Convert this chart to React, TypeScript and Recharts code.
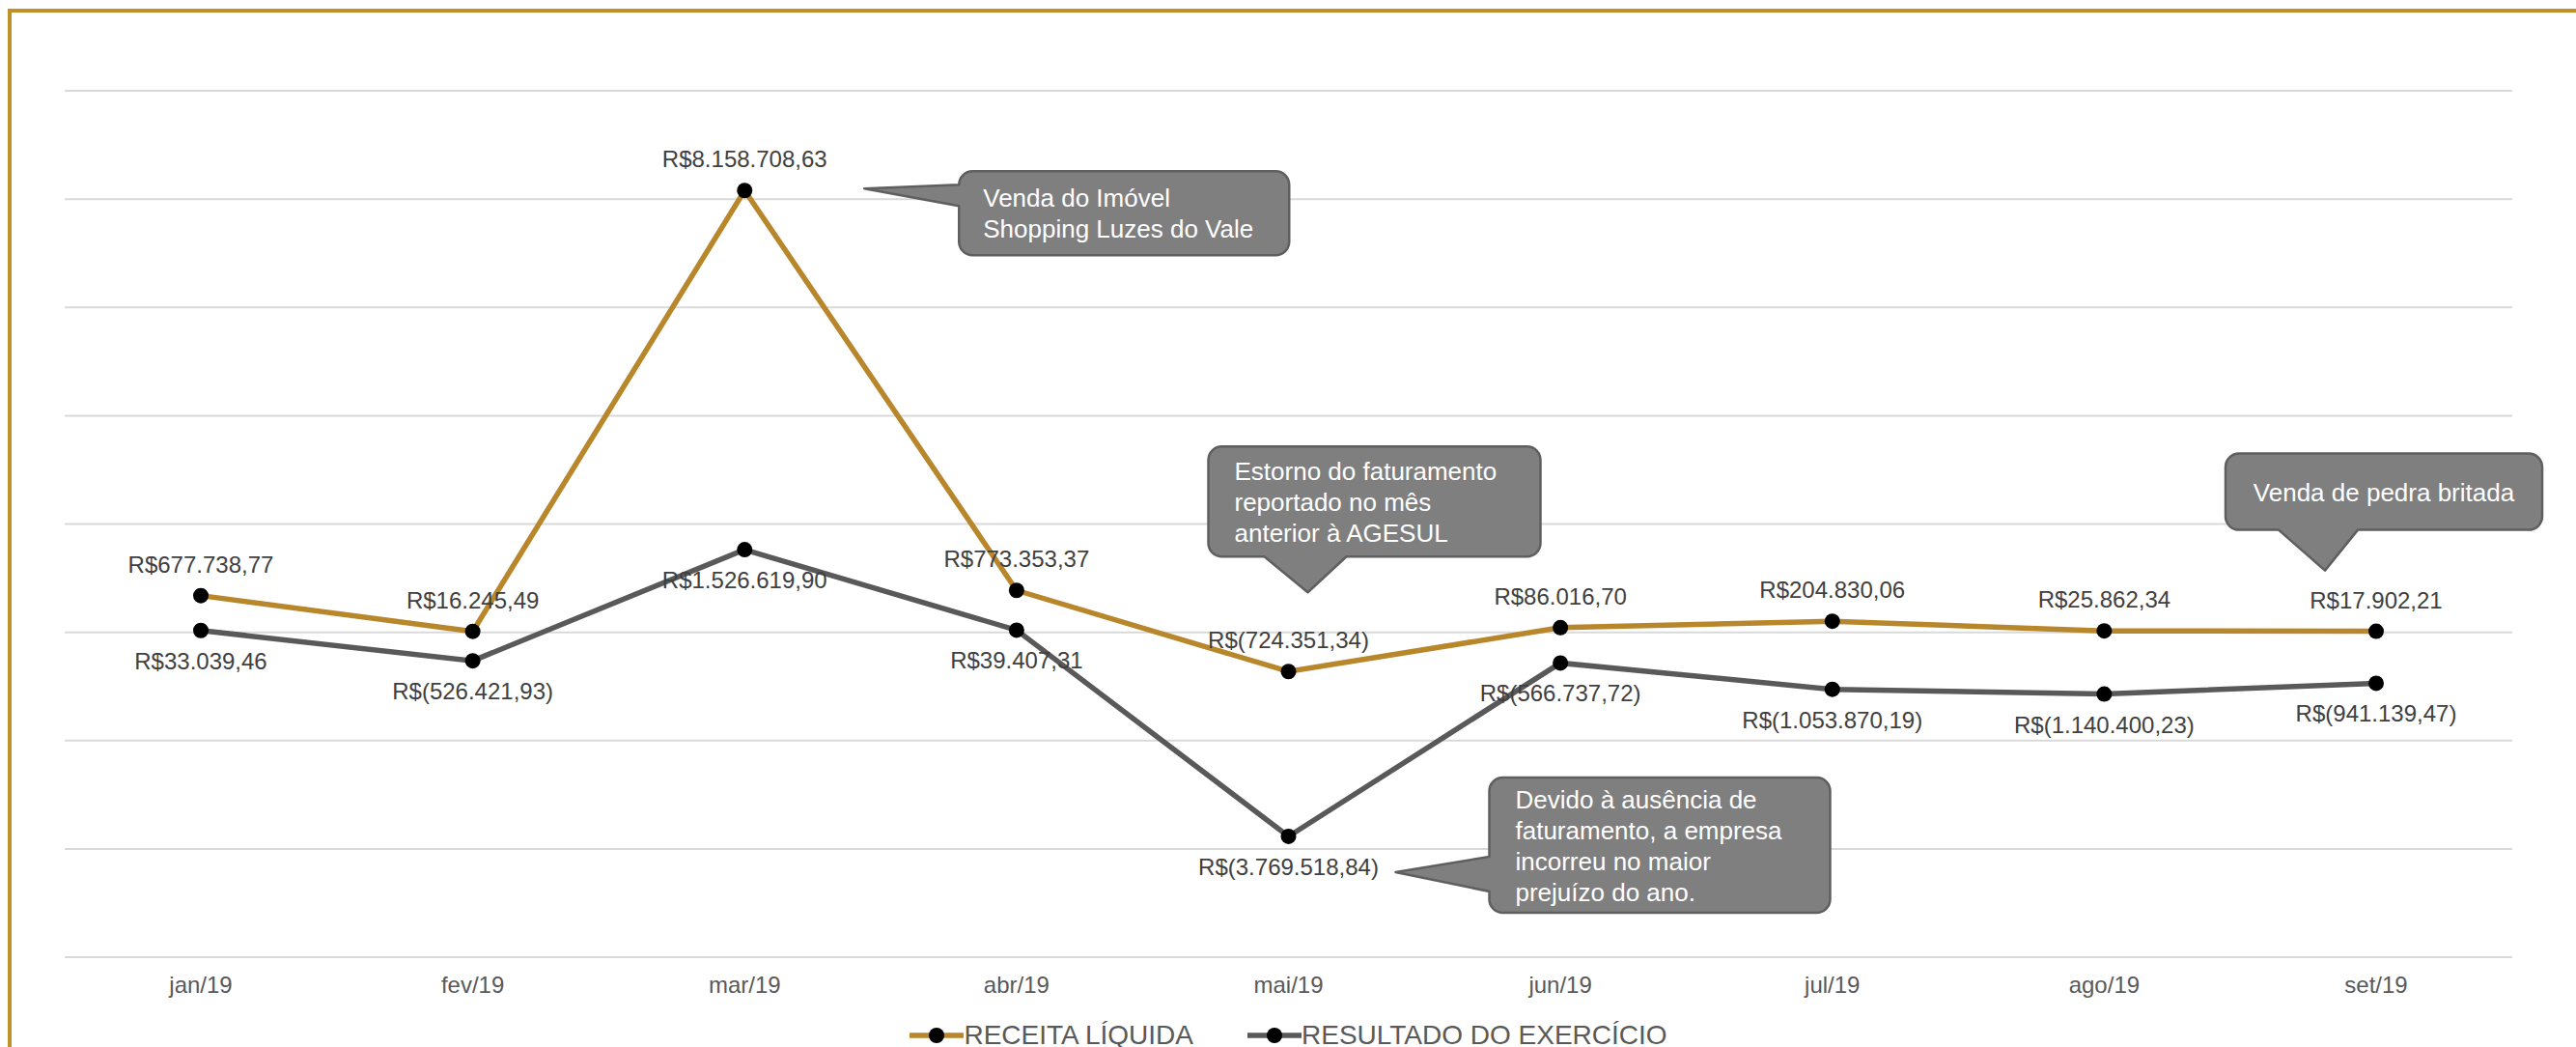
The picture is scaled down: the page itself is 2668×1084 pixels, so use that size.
import { LineChart, Line, XAxis, YAxis, CartesianGrid, Legend, LabelList, ReferenceDot } from "recharts";

const months = ["jan/19", "fev/19", "mar/19", "abr/19", "mai/19", "jun/19", "jul/19", "ago/19", "set/19"];
const receita = [677738.77, 16245.49, 8158708.63, 773353.37, -724351.34, 86016.7, 204830.06, 25862.34, 17902.21];
const resultado = [33039.46, -526421.93, 1526619.9, 39407.31, -3769518.84, -566737.72, -1053870.19, -1140400.23, -941139.47];
const yTicks = [-6000000, -4000000, -2000000, 0, 2000000, 4000000, 6000000, 8000000, 10000000];
const seriesNames = ["RECEITA LÍQUIDA", "RESULTADO DO EXERCÍCIO"];

const calloutTexts = [
  ["Venda do Imóvel", "Shopping Luzes do Vale"],
  ["Estorno do faturamento", "reportado no mês", "anterior à AGESUL"],
  ["Devido à ausência de", "faturamento, a empresa", "incorreu no maior", "prejuízo do ano."],
  ["Venda de pedra britada"],
];

const GOLD = "#B8862B";
const GRAY = "#595959";
const FONT = "'Liberation Sans', Arial, sans-serif";

const data = months.map((m, i) => ({ month: m, receita: receita[i], resultado: resultado[i] }));
const seriesValues: Record<string, number[]> = { receita, resultado };

// callout geometry, offsets from the data point it points at
const calloutLayout = [
  { idx: 2, series: "receita", box: [222, -20, 564, 67], side: "left", base: [-6, 16], tip: [124, -2], tx: 247, ty: 17, anchor: "start" },
  { idx: 4, series: "receita", box: [-83, -233, 261, -119], side: "bottom", base: [-25, 60], tip: [20, -82], tx: -56, ty: -198, anchor: "start" },
  { idx: 4, series: "resultado", box: [208, -61, 561, 79], side: "left", base: [21, 57], tip: [111, 37], tx: 235, ty: -29, anchor: "start" },
  { idx: 8, series: "receita", box: [-156, -184, 172, -105], side: "bottom", base: [-101, -19], tip: [-53, -63], tx: 8, ty: -135, anchor: "middle" },
];

function fmt(v: number) {
  const [int, dec] = Math.abs(v).toFixed(2).split(".");
  const s = int.replace(/\B(?=(\d{3})+(?!\d))/g, ".") + "," + dec;
  return v < 0 ? `R$(${s})` : `R$${s}`;
}

function Callout({ cx, cy, cfg, lines }: any) {
  const [bx0, by0, bx1, by1] = cfg.box;
  const x0 = cx + bx0, y0 = cy + by0, x1 = cx + bx1, y1 = cy + by1;
  const r = 14;
  const tx = cx + cfg.tip[0], ty = cy + cfg.tip[1];
  let d = `M${x0 + r},${y0} H${x1 - r} A${r},${r} 0 0 1 ${x1},${y0 + r} V${y1 - r} A${r},${r} 0 0 1 ${x1 - r},${y1}`;
  if (cfg.side === "bottom") {
    d += ` H${cx + cfg.base[1]} L${tx},${ty} L${cx + cfg.base[0]},${y1}`;
  }
  d += ` H${x0 + r} A${r},${r} 0 0 1 ${x0},${y1 - r}`;
  if (cfg.side === "left") {
    d += ` V${cy + cfg.base[1]} L${tx},${ty} L${x0},${cy + cfg.base[0]}`;
  }
  d += ` V${y0 + r} A${r},${r} 0 0 1 ${x0 + r},${y0} Z`;
  return (
    <g>
      <path d={d} fill="#7F7F7F" stroke="#5F5F5F" strokeWidth={2.5} strokeLinejoin="round" />
      {lines.map((t: string, i: number) => (
        <text key={i} x={cx + cfg.tx} y={cy + cfg.ty + i * 32} fill="#fff" fontSize={26} fontFamily={FONT} textAnchor={cfg.anchor}>
          {t}
        </text>
      ))}
    </g>
  );
}

const labelAbove = (p: any) => (
  <text x={p.x} y={p.y - 24} textAnchor="middle" fontSize={24} fill="#404040" fontFamily={FONT}>
    {fmt(p.value)}
  </text>
);
const labelBelow = (p: any) => (
  <text x={p.x} y={p.y + 40} textAnchor="middle" fontSize={24} fill="#404040" fontFamily={FONT}>
    {fmt(p.value)}
  </text>
);

function LegendContent() {
  const colors = [GOLD, GRAY];
  return (
    <div style={{ display: "flex", justifyContent: "center", height: 40, paddingTop: 12, boxSizing: "border-box" }}>
      {seriesNames.map((n, i) => (
        <div key={n} style={{ display: "flex", alignItems: "center", marginLeft: i ? 56 : 0, height: 32 }}>
          <svg width={56} height={20}>
            <line x1={0} y1={10} x2={56} y2={10} stroke={colors[i]} strokeWidth={5.5} />
            <circle cx={28} cy={10} r={8} fill="#000" />
          </svg>
          <span style={{ fontSize: 28, color: GRAY, fontFamily: FONT, lineHeight: "32px" }}>{n}</span>
        </div>
      ))}
    </div>
  );
}

export default function App() {
  return (
    <div style={{ position: "relative", width: 2668, height: 1084, overflow: "hidden", fontFamily: FONT }}>
      <style>{`body{margin:0;overflow:hidden;background:#fff}`}</style>
      <div
        style={{
          position: "absolute", left: 8, top: 9, width: 2660, height: 1075,
          borderTop: `4px solid #BF9126`, borderLeft: `4px solid #BF9126`, boxSizing: "border-box",
        }}
      />
      <div style={{ position: "absolute", left: 0, top: 0 }}>
        <LineChart width={2668} height={1084} data={data} margin={{ top: 94, right: 66, bottom: 0, left: 67 }}>
          <CartesianGrid vertical={false} stroke="#D9D9D9" strokeWidth={2} />
          <XAxis
            dataKey="month"
            padding={{ left: 141, right: 141 }}
            axisLine={false}
            tickLine={false}
            tickSize={0}
            tickMargin={20}
            height={53}
            interval={0}
            tick={{ fontSize: 24, fill: GRAY, fontFamily: FONT }}
          />
          <YAxis hide type="number" domain={[-6000000, 10000000]} ticks={yTicks} />
          <Legend verticalAlign="bottom" height={40} content={() => <LegendContent />} />
          <Line
            dataKey="receita"
            name={seriesNames[0]}
            stroke={GOLD}
            strokeWidth={5.5}
            dot={{ r: 8, fill: "#000", stroke: "none" }}
            activeDot={false}
            isAnimationActive={false}
          >
            <LabelList dataKey="receita" content={labelAbove} />
          </Line>
          <Line
            dataKey="resultado"
            name={seriesNames[1]}
            stroke={GRAY}
            strokeWidth={5.5}
            dot={{ r: 8, fill: "#000", stroke: "none" }}
            activeDot={false}
            isAnimationActive={false}
          >
            <LabelList dataKey="resultado" content={labelBelow} />
          </Line>
          {calloutLayout.map((c, i) => (
            <ReferenceDot
              key={i}
              x={months[c.idx]}
              y={seriesValues[c.series][c.idx]}
              ifOverflow="visible"
              shape={(p: any) => <Callout cx={p.cx} cy={p.cy} cfg={c} lines={calloutTexts[i]} />}
            />
          ))}
        </LineChart>
      </div>
    </div>
  );
}
